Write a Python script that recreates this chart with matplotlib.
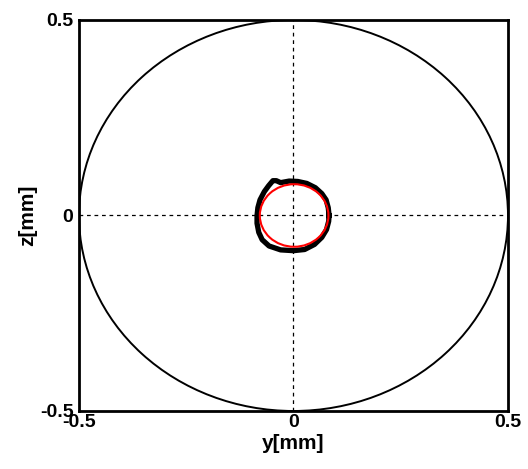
import numpy as np
import matplotlib
matplotlib.use("Agg")
import matplotlib.pyplot as plt
from matplotlib.patches import Circle

plt.rcParams['font.family'] = ['Liberation Sans', 'DejaVu Sans']
plt.rcParams['font.weight'] = 'bold'

# outer boundary (radius 0.5 mm)
outer_center = (0.0, 0.0)
outer_radius = 0.5

# red fitted circle
fit_center = (0.0015, 0.0)
fit_radius = 0.080

# measured black outline (y, z) in mm
blob_y = [0.083, 0.081, 0.076, 0.066, 0.051, 0.031, 0.010, -0.010, -0.030, -0.040,
          -0.048, -0.058, -0.068, -0.078, -0.083, -0.085, -0.085, -0.081, -0.073,
          -0.057, -0.030, 0.000, 0.026, 0.049, 0.066, 0.077, 0.082, 0.083]
blob_z = [0.000, 0.020, 0.040, 0.056, 0.071, 0.082, 0.087, 0.088, 0.084, 0.089,
          0.089, 0.076, 0.061, 0.040, 0.020, 0.000, -0.020, -0.043, -0.062,
          -0.078, -0.088, -0.090, -0.087, -0.074, -0.056, -0.036, -0.015, 0.000]

ticks = [-0.5, 0, 0.5]
tick_labels = ['-0.5', '0', '0.5']

fig = plt.figure(figsize=(5.28, 4.69), dpi=100)
ax = fig.add_axes([0.1496, 0.1237, 0.8125, 0.8337])

ax.axhline(0, color='black', lw=0.9, ls=(0, (3, 3)))
ax.axvline(0, color='black', lw=0.9, ls=(0, (3, 3)))

ax.add_patch(Circle(outer_center, outer_radius, fill=False, ec='black', lw=1.4))
ax.plot(blob_y, blob_z, color='black', lw=3.8, solid_joinstyle='round', zorder=2)
ax.add_patch(Circle(fit_center, fit_radius, fill=False, ec='red', lw=1.5, zorder=3))

ax.set_xlim(-0.5, 0.5)
ax.set_ylim(-0.5, 0.5)
ax.set_xticks(ticks)
ax.set_xticklabels(tick_labels)
ax.set_yticks(ticks)
ax.set_yticklabels(tick_labels)
ax.tick_params(length=0, labelsize=14)
ax.tick_params(axis='x', pad=2)
ax.tick_params(axis='y', pad=4)
for s in ax.spines.values():
    s.set_linewidth(2)

ax.set_xlabel('y[mm]', fontsize=15, fontweight='bold', labelpad=2)
ax.set_ylabel('z[mm]', fontsize=15, fontweight='bold', labelpad=2)

fig.savefig('out.png', dpi=100)
